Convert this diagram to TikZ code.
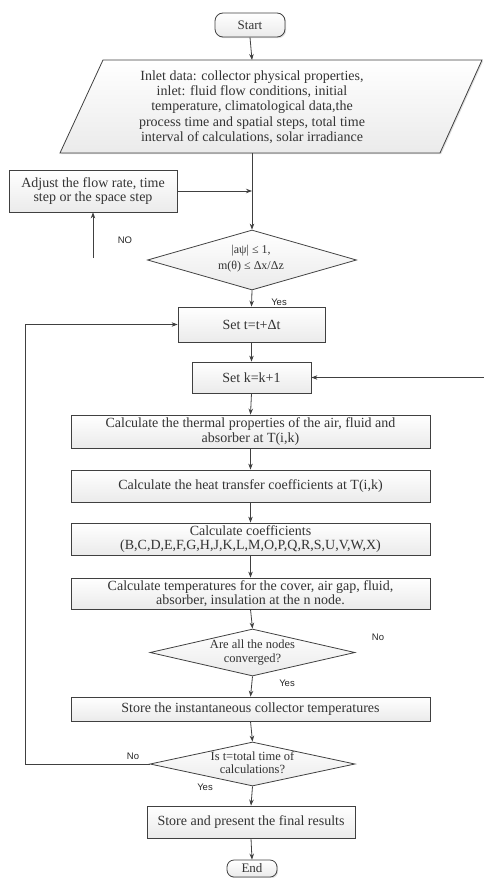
\documentclass[tikz,border=0pt]{standalone}
\usepackage{fontspec}
\setmainfont{Liberation Serif}
\newfontfamily\lblfont{Liberation Sans}
\usetikzlibrary{shapes.geometric,arrows.meta,shadows}
\begin{document}
\begin{tikzpicture}[x=1pt,y=-1pt,
  txt/.style={font=\fontsize{14}{14.3}\selectfont, align=center, text=black!80},
  dtxt/.style={font=\fontsize{12.5}{14}\selectfont, align=center, text=black!80},
  box/.style={txt, draw=black!75, line width=0.8pt, top color=white, bottom color=gray!16,
    drop shadow={shadow xshift=1.2pt,shadow yshift=-1.2pt,opacity=0.25}, inner sep=1pt},
  term/.style={box, rounded corners=8pt},
  dia/.style={diamond, draw=black!75, line width=0.8pt, top color=white, bottom color=gray!16,
    inner sep=0pt, aspect=4},
  lbl/.style={font=\lblfont\fontsize{9.5}{11}\selectfont, text=black!85},
  arr/.style={-{Stealth[length=6pt,width=4.5pt]}, line width=0.8pt, draw=black!75},
  ln/.style={line width=0.8pt, draw=black!75}
]
\useasboundingbox (0,0) rectangle (484,878);

% Start
\node[term, minimum width=70pt, minimum height=24pt, font=\fontsize{13}{13}\selectfont] (start) at (250,25) {Start};

% Input parallelogram
\coordinate (pTL) at (103,60);
\coordinate (pTR) at (482,60);
\coordinate (pBR) at (440,153);
\coordinate (pBL) at (60,153);
\path[draw=black!75, line width=0.8pt, top color=white, bottom color=gray!16,
  drop shadow={shadow xshift=1.2pt,shadow yshift=-1.2pt,opacity=0.25}]
  (pTL) -- (pTR) -- (pBR) -- (pBL) -- cycle;
\node[txt, font=\fontsize{14}{15.3}\selectfont, inner sep=0pt] (input) at (252,107) {Inlet data: collector physical properties,\\
  inlet: fluid flow conditions, initial\\
  temperature, climatological data,the\\
  process time and spatial steps, total time\\
  interval of calculations, solar irradiance};
\coordinate (inT) at (252,60);
\coordinate (inB) at (252,153);

% Adjust box
\node[box, minimum width=168pt, minimum height=42pt] (adj) at (93,191)
  {Adjust the flow rate, time\\step or the space step};
\coordinate (join) at (252,191);
\coordinate (noEnd) at (93,258);

% Diamond 1
\node[dia, minimum width=209pt, minimum height=60pt] (d1) at (252,260) {};
\node[dtxt, font=\fontsize{12}{16}\selectfont] (d1t) at (251,259) {|aψ| ≤ 1,\\m(θ) ≤ Δx/Δz};

% Set boxes
\node[box, minimum width=147pt, minimum height=35pt] (sett) at (251.5,324.5) {Set t=t+Δt};
\node[box, minimum width=119pt, minimum height=31pt] (setk) at (251.5,377.5) {Set k=k+1};
\coordinate (rIn) at (484,377.5);

% Calculation boxes
\node[box, minimum width=359pt, minimum height=33pt] (c1) at (250.5,431.5)
  {Calculate the thermal properties of the air, fluid and\\absorber at T(i,k)};
\node[box, minimum width=359pt, minimum height=32pt] (c2) at (250.5,486)
  {Calculate the heat transfer coefficients at T(i,k)};
\node[box, minimum width=359pt, minimum height=32pt] (c3) at (250.5,539)
  {Calculate coefficients\\(B,C,D,E,F,G,H,J,K,L,M,O,P,Q,R,S,U,V,W,X)};
\node[box, minimum width=359pt, minimum height=31pt] (c4) at (250.5,593.5)
  {Calculate temperatures for the cover, air gap, fluid,\\absorber, insulation at the n node.};

% Diamond 2
\node[dia, minimum width=205pt, minimum height=47pt] (d2) at (252.5,652.5) {};
\node[dtxt] (d2t) at (252.5,652.5) {Are all the nodes\\converged?};

% Store
\node[box, minimum width=359pt, minimum height=24pt] (store) at (250.5,709)
  {Store the instantaneous collector temperatures};

% Diamond 3
\node[dia, minimum width=205pt, minimum height=44pt] (d3) at (252.5,764) {};
\node[dtxt, font=\fontsize{12.5}{13}\selectfont] (d3t) at (252.5,763) {Is t=total time of\\calculations?};
\coordinate (loopA) at (25,764);

% Final
\node[box, minimum width=208pt, minimum height=32pt] (final) at (251,822)
  {Store and present the final results};
\node[term, minimum width=50pt, minimum height=17pt, rounded corners=7pt, inner sep=0pt,
  font=\fontsize{13}{13}\selectfont] (end) at (252,868.5) {End};

% Labels
\node[lbl] (lno1) at (125,240) {NO};
\node[lbl] (lyes1) at (279,302) {Yes};
\node[lbl] (lno2) at (378,637) {No};
\node[lbl] (lyes2) at (287,683) {Yes};
\node[lbl] (lno3) at (133,756) {No};
\node[lbl] (lyes3) at (205,787) {Yes};

% Connectors
\draw[arr] (start.south) -- (inT);
\draw[arr] (inB) -- (d1.north);
\draw[arr] (adj.east) -- (join);
\draw[arr] (noEnd) -- (adj.south);
\draw[arr] (d1.south) -- (sett.north);
\draw[arr] (sett.south) -- (setk.north);
\draw[arr] (rIn) -- (setk.east);
\draw[arr] (setk.south) -- (c1.north);
\draw[arr] (c1.south) -- (c2.north);
\draw[arr] (c2.south) -- (c3.north);
\draw[arr] (c3.south) -- (c4.north);
\draw[arr] (c4.south) -- (d2.north);
\draw[arr] (d2.south) -- (store.north);
\draw[arr] (store.south) -- (d3.north);
\draw[arr] (d3.south) -- (final.north);
\draw[arr] (final.south) -- (end.north);
\draw[arr] (d3.west) -- (loopA) |- (sett.west);
\end{tikzpicture}
\end{document}
